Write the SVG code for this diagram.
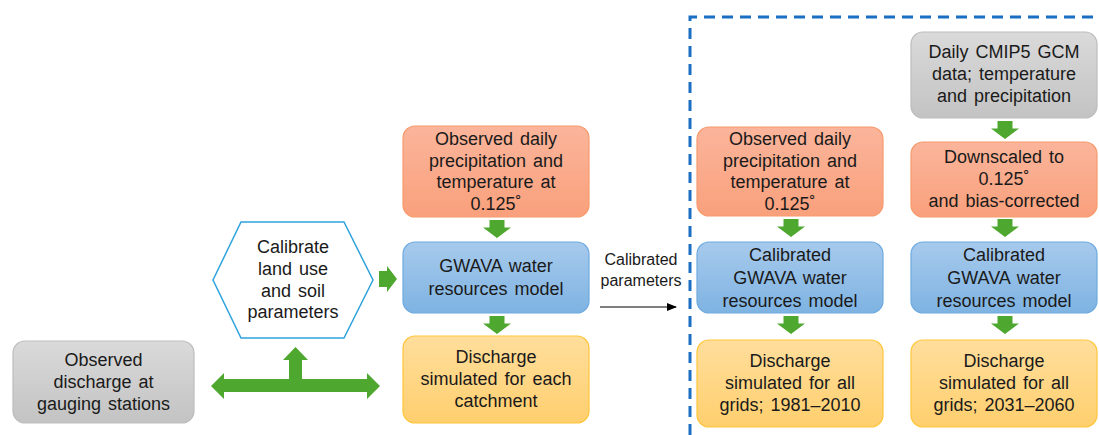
<svg xmlns="http://www.w3.org/2000/svg" width="1099" height="435" viewBox="0 0 1099 435">
<defs>
<linearGradient id="gOr" x1="0" y1="0" x2="0" y2="1"><stop offset="0" stop-color="#FBB59B"/><stop offset="1" stop-color="#F9A07C"/></linearGradient>
<linearGradient id="gBl" x1="0" y1="0" x2="0" y2="1"><stop offset="0" stop-color="#A7CAEC"/><stop offset="1" stop-color="#7EB3E2"/></linearGradient>
<linearGradient id="gYe" x1="0" y1="0" x2="0" y2="1"><stop offset="0" stop-color="#FFDE9C"/><stop offset="1" stop-color="#FFCF6E"/></linearGradient>
<linearGradient id="gGr" x1="0" y1="0" x2="0" y2="1"><stop offset="0" stop-color="#DADADA"/><stop offset="1" stop-color="#C3C3C3"/></linearGradient>
<path id="dn" d="M-7.5,0 H7.5 V7.5 H14 L0,18 L-14,7.5 H-7.5 Z"/>
<marker id="ah" markerWidth="10" markerHeight="8" refX="9" refY="4" orient="auto" markerUnits="userSpaceOnUse"><path d="M0,0 L10,4 L0,8 Z" fill="#000"/></marker>
</defs>
<style>
text{font-family:"Liberation Sans",Arial,sans-serif;font-size:18px;fill:#1a1a1a;text-anchor:middle;word-spacing:2px}
.or{fill:url(#gOr);stroke:#F79A6C;stroke-width:1.2}
.bl{fill:url(#gBl);stroke:#6EAAE0;stroke-width:1.2}
.ye{fill:url(#gYe);stroke:#FFC53A;stroke-width:1.2}
.gr{fill:url(#gGr);stroke:#BDBDBD;stroke-width:1.2}
.grn{fill:#4EA72E}
.lbl{font-size:16px;word-spacing:0}
</style>

<g id="dashed-region"><path d="M690,435 V17 H1099" fill="none" stroke="#1B6FC2" stroke-width="3" stroke-dasharray="11 7"/></g>

<g id="obs-discharge">
<rect class="gr" x="13" y="341" width="181" height="82" rx="12"/>
<text x="103.5" y="366">Observed</text>
<text x="103.5" y="388">discharge at</text>
<text x="103.5" y="410">gauging stations</text>
</g>

<g id="calibrate">
<polygon points="213,280 241,222 344,222 373,280 344,338 241,338" fill="#fff" stroke="#2EA3DD" stroke-width="1.5"/>
<text x="293" y="253">Calibrate</text>
<text x="293" y="275">land use</text>
<text x="293" y="297">and soil</text>
<text x="293" y="318">parameters</text>
</g>

<g id="obs-precip-1">
<rect class="or" x="403" y="126" width="186" height="91" rx="12"/>
<text x="496" y="145">Observed daily</text>
<text x="496" y="167">precipitation and</text>
<text x="496" y="188">temperature at</text>
<text x="496" y="210">0.125˚</text>
</g>

<g id="gwava-1">
<rect class="bl" x="403" y="242" width="186" height="71" rx="12"/>
<text x="496" y="272">GWAVA water</text>
<text x="496" y="295">resources model</text>
</g>

<g id="discharge-1">
<rect class="ye" x="403" y="336" width="186" height="87" rx="12"/>
<text x="496" y="363">Discharge</text>
<text x="496" y="385">simulated for each</text>
<text x="496" y="407">catchment</text>
</g>

<g id="obs-precip-2">
<rect class="or" x="697" y="127" width="186" height="89" rx="12"/>
<text x="790" y="145">Observed daily</text>
<text x="790" y="167">precipitation and</text>
<text x="790" y="188">temperature at</text>
<text x="790" y="210">0.125˚</text>
</g>

<g id="gwava-2">
<rect class="bl" x="697" y="242" width="186" height="71" rx="12"/>
<text x="790" y="261">Calibrated</text>
<text x="790" y="284">GWAVA water</text>
<text x="790" y="307">resources model</text>
</g>

<g id="discharge-2">
<rect class="ye" x="697" y="340" width="186" height="87" rx="12"/>
<text x="790" y="367">Discharge</text>
<text x="790" y="389">simulated for all</text>
<text x="790" y="411">grids; 1981–2010</text>
</g>

<g id="cmip5">
<rect class="gr" x="911" y="32" width="186" height="86" rx="12"/>
<text x="1004" y="58">Daily CMIP5 GCM</text>
<text x="1004" y="80">data; temperature</text>
<text x="1004" y="102">and precipitation</text>
</g>

<g id="downscaled">
<rect class="or" x="911" y="142" width="186" height="75" rx="12"/>
<text x="1004" y="163">Downscaled to</text>
<text x="1004" y="185">0.125˚</text>
<text x="1004" y="207">and bias-corrected</text>
</g>

<g id="gwava-3">
<rect class="bl" x="911" y="242" width="186" height="71" rx="12"/>
<text x="1004" y="261">Calibrated</text>
<text x="1004" y="284">GWAVA water</text>
<text x="1004" y="307">resources model</text>
</g>

<g id="discharge-3">
<rect class="ye" x="911" y="340" width="186" height="87" rx="12"/>
<text x="1004" y="367">Discharge</text>
<text x="1004" y="389">simulated for all</text>
<text x="1004" y="411">grids; 2031–2060</text>
</g>

<g id="connectors">
<use href="#dn" class="grn" x="497" y="220"/>
<use href="#dn" class="grn" x="497" y="316"/>
<use href="#dn" class="grn" x="791" y="219"/>
<use href="#dn" class="grn" x="791" y="316"/>
<use href="#dn" class="grn" x="1005" y="121"/>
<use href="#dn" class="grn" x="1005" y="219"/>
<use href="#dn" class="grn" x="1005" y="316"/>
<path class="grn" d="M379,271 H387 V266 L397,279 L387,292 V287 H379 Z"/>
<path class="grn" d="M211,386 L224,373 V379 H289 V360 H283 L295.5,347 L308,360 H302 V379 H367 V373 L380,386 L367,399 V392 H224 V399 Z"/>
<line x1="600" y1="307" x2="676" y2="307" stroke="#000" stroke-width="1.2" marker-end="url(#ah)"/>
<text class="lbl" x="641" y="265">Calibrated</text>
<text class="lbl" x="641" y="286">parameters</text>
</g>
</svg>
